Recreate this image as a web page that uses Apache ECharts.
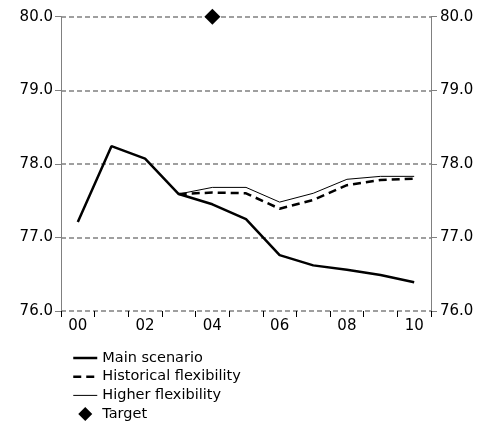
<!DOCTYPE html>
<html><head><meta charset="utf-8">
<script src="https://cdn.jsdelivr.net/npm/echarts@6/dist/echarts.min.js"></script>
<style>html,body{margin:0;padding:0;background:#fff}#c{width:491px;height:423px}</style>
</head><body><div id="c"></div>
<script>
const categories = ['00','01','02','03','04','05','06','07','08','09','10'];
const mainScenario = [77.21, 78.24, 78.07, 77.59, 77.45, 77.25, 76.76, 76.62, 76.56, 76.49, 76.39];
const historicalFlex = [null, null, null, 77.59, 77.61, 77.60, 77.39, 77.51, 77.71, 77.78, 77.80];
const higherFlex = [null, null, null, 77.59, 77.68, 77.68, 77.48, 77.60, 77.79, 77.83, 77.83];
const targetPoint = [['04', 80.0]];
const yTicks = { min: 76, max: 80, interval: 1 };

const font = 'DejaVu Sans';
const chart = echarts.init(document.getElementById('c'));
const yAxisCommon = {
  type: 'value', min: yTicks.min, max: yTicks.max, interval: yTicks.interval,
  axisLine: { show: true, lineStyle: { color: '#808080', width: 1 } },
  axisTick: { show: true, length: 6, lineStyle: { color: '#808080', width: 1 } },
  axisLabel: { color: '#000', fontFamily: font, fontSize: 15, formatter: v => v.toFixed(1) }
};
const hideSym = { opacity: 0 };
chart.setOption({
  animation: false,
  grid: { left: 61, right: 60, top: 16.7, bottom: 112, containLabel: false },
  xAxis: {
    type: 'category', data: categories, boundaryGap: true,
    axisLine: { show: false },
    axisTick: { show: true, interval: 0, length: 6, lineStyle: { color: '#000', width: 1 } },
    axisLabel: { interval: 1, color: '#000', fontFamily: font, fontSize: 15, margin: 8 }
  },
  yAxis: [
    Object.assign({}, yAxisCommon, { position: 'left', axisLabel: Object.assign({}, yAxisCommon.axisLabel, { margin: 8 }),
      splitLine: { show: true, lineStyle: { color: '#808080', width: 1.5, type: [5, 3] } } }),
    Object.assign({}, yAxisCommon, { position: 'right', axisLabel: Object.assign({}, yAxisCommon.axisLabel, { margin: 9 }),
      splitLine: { show: false } })
  ],
  legend: {
    orient: 'vertical', left: 67, top: 345, height: 78, itemWidth: 24, itemHeight: 14, itemGap: 2.7,
    symbolKeepAspect: true,
    textStyle: { color: '#000', fontFamily: font, fontSize: 14.5, lineHeight: 16 },
    data: [
      { name: 'Main scenario', itemStyle: hideSym, lineStyle: { width: 2.5 } },
      { name: 'Historical flexibility', itemStyle: hideSym, lineStyle: { width: 2.5 } },
      { name: 'Higher flexibility', itemStyle: hideSym, lineStyle: { width: 1 } },
      { name: 'Target', icon: 'path://M7,0L14,7L7,14L0,7Z', itemStyle: { color: '#000', opacity: 1 } }
    ]
  },
  series: [
    { name: 'Higher flexibility', type: 'line', data: higherFlex, symbol: 'none',
      lineStyle: { color: '#000', width: 1 }, itemStyle: { color: '#000' } },
    { name: 'Historical flexibility', type: 'line', data: historicalFlex, symbol: 'none',
      lineStyle: { color: '#000', width: 2.5, type: [8, 5] }, itemStyle: { color: '#000' } },
    { name: 'Main scenario', type: 'line', data: mainScenario, symbol: 'none',
      lineStyle: { color: '#000', width: 2.5 }, itemStyle: { color: '#000' } },
    { name: 'Target', type: 'scatter', data: targetPoint, symbol: 'diamond', symbolSize: 16,
      clip: false, itemStyle: { color: '#000', opacity: 1 } }
  ]
});
</script></body></html>
